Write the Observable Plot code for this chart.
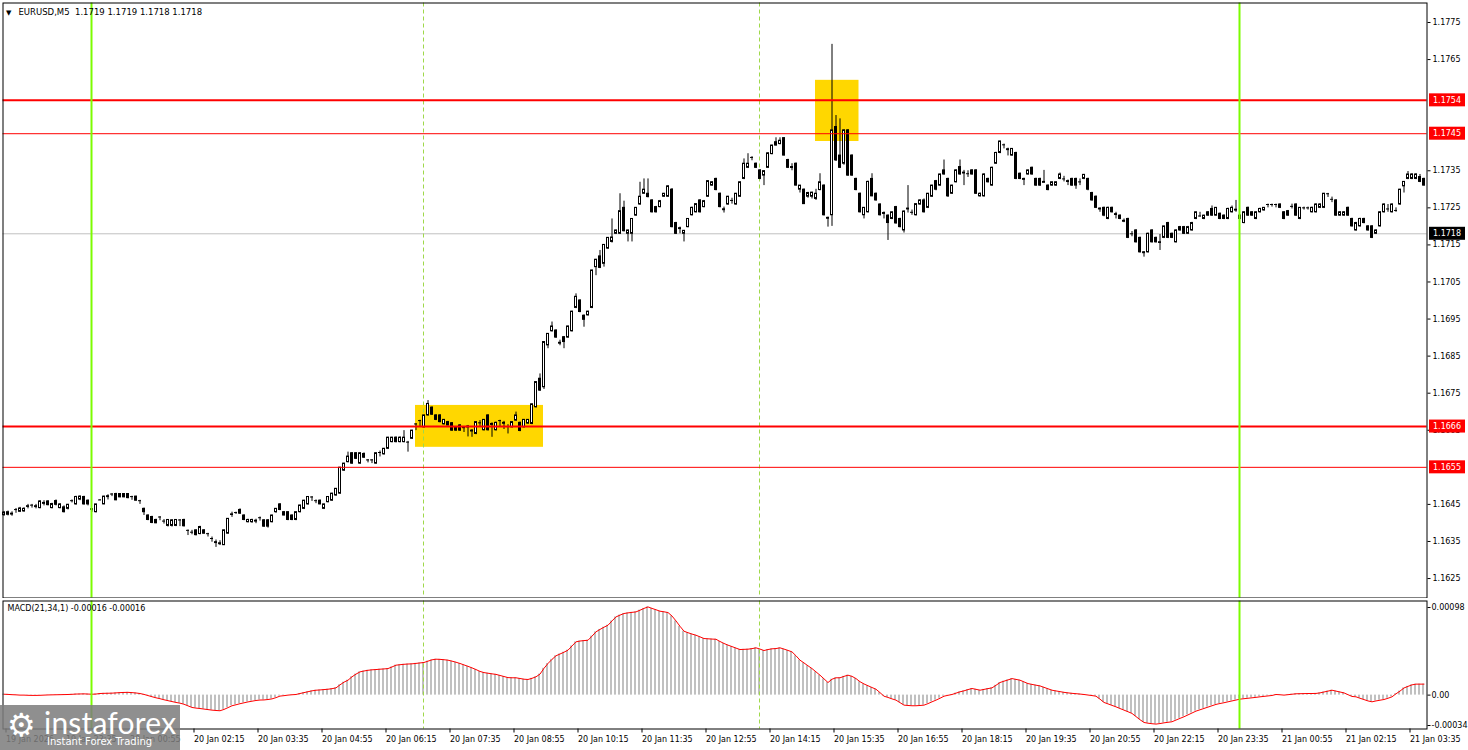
<!DOCTYPE html>
<html><head><meta charset="utf-8">
<script src="https://cdn.jsdelivr.net/npm/d3@7"></script>
<script src="https://cdn.jsdelivr.net/npm/@observablehq/plot@0.6"></script>
<style>
html,body{margin:0;padding:0;background:#fff;width:1468px;height:750px;overflow:hidden;}
#wrap{position:relative;width:1468px;height:750px;}
#main{position:absolute;left:0;top:0;}
#macd{position:absolute;left:0;top:598px;}
#logo{position:absolute;left:0;top:705px;width:180px;height:45px;background:rgba(125,125,125,0.86);color:#fff;overflow:hidden;}
#logo .gear{position:absolute;left:7px;top:1px;font-family:"DejaVu Sans";font-size:32px;line-height:38px;}
#logo .brand{position:absolute;left:44px;top:2px;font-family:Lato,"Open Sans";font-size:30px;line-height:30px;letter-spacing:0.2px;}
#logo .tag{position:absolute;left:47px;top:31px;font-family:"DejaVu Sans";font-size:10px;line-height:12px;}
</style></head>
<body><div id="wrap"><div id="main"></div><div id="macd"></div>
<div id="logo"><span class="gear">⚙</span><span class="brand">instaforex</span><span class="tag">Instant Forex Trading</span></div></div>
<script>
// EURUSD M5 candles, values in pips above BASE (price = BASE + pips/10000)
const BASE = 1.16;
const openPips = [
42.1,42.2,42.5,43.6,43.0,43.1,44.4,44.8,44.5,44.0,
45.4,45.8,44.0,45.9,44.0,44.2,43.8,46.0,45.0,46.3,
47.0,46.0,43.6,42.9,46.2,45.0,47.2,47.8,47.8,47.8,
47.8,47.8,47.1,47.1,46.0,43.8,42.0,41.6,40.8,41.6,
40.5,39.2,39.2,39.2,40.8,40.8,38.0,37.5,38.0,37.0,
38.0,37.1,35.8,34.8,34.5,34.0,37.1,42.2,42.8,43.5,
42.0,40.2,40.2,40.6,41.4,40.7,40.7,40.2,42.9,45.0,
42.9,42.9,42.0,40.8,42.9,43.8,45.0,47.0,46.0,46.0,
43.8,45.6,46.0,47.4,47.9,54.1,56.4,58.8,58.8,56.0,
58.6,57.0,57.0,56.0,59.0,58.5,60.0,61.8,63.0,61.8,
61.8,61.8,62.7,66.7,67.6,65.8,69.0,71.1,69.0,69.0,
66.6,67.2,66.9,65.8,66.3,65.8,66.0,64.9,64.0,67.0,
65.0,69.0,66.7,65.0,67.6,67.0,66.0,65.8,67.6,67.0,
65.8,66.8,66.7,71.2,78.9,76.6,87.9,91.7,91.9,88.6,
90.1,90.0,91.7,98.0,100.0,95.9,96.0,98.0,109.0,111.9,
109.9,114.0,115.8,118.0,118.0,125.0,118.0,118.0,122.9,125.9,
128.8,128.8,127.0,125.2,125.2,128.0,128.0,129.9,120.9,119.5,
118.0,119.8,123.0,123.8,127.0,125.2,128.0,131.0,132.8,128.8,
124.6,125.9,127.0,125.9,128.0,132.8,135.8,138.6,136.9,135.1,
133.7,135.8,139.5,142.7,142.2,143.8,137.9,136.0,136.9,129.9,
129.9,128.0,128.0,127.4,129.8,131.0,122.3,123.0,146.8,139.1,
136.9,145.9,139.1,132.8,128.8,123.0,123.8,132.8,128.8,125.9,
123.6,122.9,122.0,125.2,122.0,118.9,124.8,123.8,123.0,125.9,
127.0,125.0,128.0,132.2,131.0,135.1,132.8,128.8,131.9,136.0,
134.5,134.2,135.1,135.1,128.1,128.1,132.8,131.0,136.9,139.8,
142.0,140.8,139.1,139.8,134.2,132.8,134.0,135.8,132.8,132.8,
132.0,131.0,131.0,131.0,132.8,132.8,132.2,132.8,132.8,132.0,
132.8,132.8,129.0,128.0,124.8,125.0,122.0,125.0,123.3,122.9,
121.5,122.0,118.0,118.9,116.9,113.0,113.0,118.9,116.9,115.6,
116.9,120.9,118.0,115.7,119.8,119.8,118.0,118.9,122.0,122.8,
122.0,123.8,124.7,122.9,123.4,122.9,122.0,123.8,124.5,122.9,
120.9,125.0,123.8,122.0,123.8,124.3,125.9,125.9,125.9,125.9,
123.8,124.1,125.4,125.9,122.0,125.0,125.0,123.8,123.8,125.0,
125.0,128.8,127.3,127.0,122.9,122.9,125.0,122.0,118.9,120.0,
122.0,120.0,120.0,118.0,120.0,123.8,124.7,123.8,124.3,125.9,
130.8,132.8,132.8,132.8,133.3,132.8];
const highPips = [
43.1,43.2,43.0,43.9,44.2,44.1,45.0,45.0,45.0,46.0,
46.0,46.0,45.3,46.2,45.2,44.6,45.0,46.2,47.2,47.3,
47.2,46.2,43.8,45.0,46.3,47.2,47.6,47.9,48.0,47.9,
47.9,47.9,47.2,47.2,46.1,44.0,42.2,41.8,41.0,41.7,
40.9,40.9,40.9,40.9,40.9,41.0,38.1,38.0,38.1,39.1,
38.2,37.2,36.2,35.4,35.2,38.1,41.2,42.9,42.9,43.8,
42.2,41.0,41.0,41.0,41.6,40.9,40.9,42.1,43.9,45.2,
43.1,43.0,42.2,43.0,44.8,46.1,47.1,47.1,46.2,46.2,
45.1,47.1,48.0,49.3,55.0,56.1,59.1,59.0,59.0,59.0,
58.9,57.1,57.1,59.0,59.4,60.1,63.1,63.1,63.2,63.2,
64.9,62.0,65.0,66.8,67.7,69.1,73.0,71.3,69.2,69.2,
67.9,67.4,67.1,66.0,66.5,66.0,66.3,65.2,67.3,67.6,
67.9,69.2,67.0,67.2,67.7,67.4,66.5,67.3,69.9,67.2,
67.9,67.9,72.1,78.1,80.2,88.9,91.1,94.2,92.1,89.3,
90.3,93.1,97.1,101.8,100.2,96.1,97.1,108.2,111.1,113.5,
115.1,117.0,122.0,119.0,128.8,126.8,119.0,122.1,125.1,131.9,
132.8,132.8,127.2,125.4,127.0,128.9,131.0,130.2,121.1,119.8,
118.9,122.1,125.2,126.1,127.2,127.0,132.3,132.1,133.0,129.0,
125.2,128.1,127.6,128.9,132.0,138.2,139.6,138.8,137.1,135.3,
135.0,139.9,141.9,143.9,143.9,143.9,138.1,136.9,137.1,131.0,
130.1,129.2,129.2,130.0,134.2,131.2,122.5,169.1,149.9,149.0,
146.1,146.1,139.3,133.0,129.0,125.1,132.2,134.2,129.0,126.1,
123.9,123.1,123.9,125.4,122.2,124.2,131.0,124.4,126.1,127.2,
127.4,128.9,131.1,132.4,134.1,137.9,133.0,131.1,135.3,137.9,
135.1,135.0,135.3,135.3,129.0,134.2,133.0,136.0,140.0,143.0,
142.2,141.1,141.0,140.0,134.4,133.0,135.2,136.0,133.0,133.0,
135.1,131.2,132.0,132.0,134.4,133.5,132.5,133.0,133.0,132.8,
134.0,133.0,129.2,128.2,125.0,125.2,125.2,125.2,123.8,123.1,
122.0,122.2,118.6,119.1,117.1,113.2,118.2,119.1,117.1,117.8,
120.0,121.1,118.2,119.1,120.0,120.0,120.0,121.1,123.9,123.8,
123.0,124.0,125.5,125.0,123.6,123.1,124.9,125.5,127.0,123.1,
124.0,125.2,124.0,124.0,124.9,125.0,126.0,126.0,126.0,126.1,
124.0,124.3,126.0,126.1,125.0,125.2,125.2,125.2,126.1,126.1,
128.9,128.9,127.9,127.2,124.0,124.0,125.2,122.2,121.1,122.2,
122.2,120.2,120.2,119.1,124.0,126.1,125.9,126.1,125.0,130.0,
132.1,134.8,134.2,134.2,134.0,133.0];
const lowPips = [
41.8,41.9,41.8,42.6,42.8,42.9,43.8,44.0,43.8,43.8,
44.6,44.6,43.8,44.6,43.8,42.7,43.5,45.4,44.8,46.0,
44.8,44.6,42.9,42.7,46.0,44.9,46.2,47.1,46.0,46.8,
46.8,46.5,46.1,45.9,45.0,42.0,40.6,39.8,39.8,40.6,
39.7,38.9,38.9,39.0,39.0,38.9,36.6,36.8,36.5,36.8,
37.0,36.2,34.8,33.4,33.9,33.9,37.0,41.5,42.3,42.3,
40.6,40.0,39.9,39.8,40.5,38.8,38.6,40.0,42.6,43.3,
41.9,40.6,40.6,40.6,42.7,43.6,44.8,45.8,45.2,44.9,
43.6,45.4,45.8,47.2,47.7,53.9,56.2,55.8,57.1,55.8,
57.4,56.2,56.0,55.8,57.8,58.3,59.8,61.6,61.6,61.6,
61.6,59.1,62.5,64.9,65.8,65.6,68.8,69.0,67.6,67.0,
66.4,66.2,64.7,64.7,64.7,64.4,63.2,63.1,63.8,65.8,
64.8,64.8,63.1,64.8,65.8,65.2,64.0,65.6,67.4,64.6,
65.6,66.6,66.5,71.0,75.5,76.0,87.0,91.5,89.8,87.8,
87.0,89.8,91.5,97.8,96.7,92.8,95.8,97.8,106.7,108.6,
109.0,113.8,115.5,117.8,117.8,118.5,115.8,115.8,122.7,125.7,
128.6,127.7,123.6,123.6,125.0,127.8,127.8,119.6,117.8,118.0,
115.8,119.6,122.8,123.6,123.6,125.0,127.8,130.8,129.6,125.0,
123.6,125.7,126.0,125.7,127.8,132.6,135.6,137.7,135.6,132.6,
131.0,135.6,139.3,141.7,142.0,139.0,135.6,135.0,130.9,129.0,
125.9,127.6,127.4,127.0,129.6,122.8,119.8,120.0,137.5,135.6,
136.5,133.5,133.5,129.6,123.6,122.0,123.6,128.0,126.8,122.8,
122.0,116.2,121.8,120.6,119.6,118.2,123.6,123.0,122.8,125.7,
123.6,124.8,127.8,129.6,130.8,133.8,127.8,128.6,131.7,133.8,
131.0,133.2,133.8,128.6,127.9,127.9,131.7,130.8,136.7,139.6,
140.9,139.0,138.9,132.6,132.6,131.0,133.8,133.8,130.8,130.8,
131.8,129.6,130.8,130.8,132.6,132.0,131.0,130.8,130.0,131.0,
132.6,129.6,126.8,124.8,123.8,122.6,121.8,123.6,122.0,121.8,
121.0,116.7,117.2,115.5,112.8,111.7,112.8,115.5,115.5,113.5,
116.7,116.7,116.7,115.5,118.7,117.8,117.8,118.7,121.8,122.5,
121.8,122.7,122.7,122.7,121.8,121.8,121.8,123.6,123.8,121.8,
120.7,122.7,122.7,121.8,123.6,124.1,125.0,125.2,125.0,124.8,
121.8,122.7,124.7,122.7,121.8,124.4,124.4,123.6,123.6,124.8,
124.8,127.8,126.4,122.7,122.7,122.7,122.7,119.8,118.7,119.8,
120.7,118.7,116.7,117.8,119.8,123.6,123.8,123.6,123.8,125.7,
129.0,132.6,132.6,132.6,131.8,130.9];
const closePips = [
42.8,42.9,42.4,43.6,43.9,43.8,44.5,44.8,44.4,45.8,
45.3,44.8,45.1,44.9,45.0,42.9,44.9,46.0,47.0,47.1,
45.0,45.0,43.7,45.0,46.2,47.1,47.1,47.8,46.1,46.9,
46.9,46.7,47.1,46.0,46.0,42.9,40.8,40.0,39.9,41.6,
40.5,40.8,40.7,40.8,40.8,39.1,38.0,37.5,36.7,38.9,
37.1,37.1,35.8,34.7,34.4,38.0,41.1,42.3,42.8,42.5,
40.8,40.8,40.8,40.5,41.4,39.0,39.0,42.0,43.8,43.5,
42.0,40.8,40.8,42.9,44.7,46.0,47.0,47.0,46.0,45.0,
45.0,47.0,47.9,49.2,54.9,56.0,57.9,56.0,57.3,58.8,
57.6,57.0,57.0,58.8,59.0,60.0,63.0,63.0,61.8,63.0,
63.0,61.8,64.9,66.7,67.6,69.0,72.1,69.2,67.8,67.2,
67.8,66.3,64.9,64.9,64.9,65.7,65.9,64.8,67.2,67.0,
67.8,65.0,66.6,67.0,67.6,66.9,66.0,67.2,69.0,64.8,
67.8,67.8,72.0,78.0,75.7,88.8,91.0,93.0,90.0,88.5,
88.8,93.0,97.0,101.0,96.9,94.8,97.0,108.1,111.0,108.8,
115.0,116.9,117.0,118.9,124.1,118.7,118.9,122.0,125.0,128.0,
129.9,127.9,123.8,123.8,126.8,128.8,130.8,119.8,118.0,119.4,
118.8,122.0,125.0,126.0,123.8,126.8,132.2,131.9,129.8,125.2,
124.5,128.0,127.0,128.8,131.9,136.9,136.9,138.6,135.8,132.8,
134.9,139.7,141.8,141.8,143.1,139.1,135.8,135.9,131.0,131.0,
126.0,129.0,129.1,128.8,131.9,123.0,122.2,145.9,137.8,135.8,
145.9,133.7,133.7,129.8,123.8,125.0,132.0,128.1,127.0,123.0,
123.5,120.9,123.8,120.8,119.8,124.0,124.7,123.8,126.0,127.0,
123.8,128.8,131.0,129.9,134.0,134.0,128.1,131.0,135.1,134.0,
134.4,134.2,134.0,128.8,128.8,134.0,131.9,135.8,139.8,142.9,
142.0,140.7,140.9,132.8,132.8,132.7,135.1,134.0,131.0,131.0,
131.9,129.8,131.9,131.9,134.0,132.8,132.1,131.0,131.0,132.0,
133.9,129.9,127.0,125.0,124.7,122.9,125.0,123.8,123.2,122.0,
121.4,116.9,118.0,115.7,113.0,112.9,118.0,115.7,115.7,115.7,
120.0,116.9,116.9,118.9,118.9,118.0,119.8,120.9,123.8,122.8,
122.9,122.9,122.9,125.0,122.0,122.0,124.7,125.0,124.4,122.0,
123.8,122.9,122.9,123.8,124.7,125.0,125.9,125.9,125.9,125.0,
122.0,122.9,125.4,122.9,125.0,125.0,125.0,125.0,125.9,125.9,
128.8,128.8,127.3,122.9,123.8,123.8,122.9,120.0,120.9,122.0,
120.9,118.9,116.9,118.9,123.8,125.9,124.7,125.9,124.3,129.9,
132.0,134.0,134.0,134.0,132.0,131.0];
// MACD(21,34,1) histogram / signal, in units of 0.00001
const macdValues = [
1.0,0.8,0.5,0.3,0,0,-0.2,-0.3,-0.3,-0.2,
0,0.2,0.3,0.4,0.5,0.6,0.7,0.9,1.2,1.3,
1.4,1.2,1.0,1.2,1.8,2.0,2.1,2.2,2.5,2.8,
3.0,3.1,2.8,2.4,1.8,0.8,-0.5,-1.8,-3.0,-4.0,
-5.2,-6.2,-7.2,-8.2,-9.0,-10.2,-12.0,-13.8,-14.5,-15.0,
-15.6,-16.2,-16.8,-17.2,-17.5,-16.0,-14.0,-11.9,-10.8,-9.6,
-8.6,-7.6,-6.8,-6.0,-5.5,-5.4,-4.9,-4.2,-2.8,-1.1,
-0.6,0,0.4,0.7,1.8,2.8,3.8,4.8,5.5,5.8,
6.2,6.6,7.2,8.1,11.5,14.5,16.7,20.5,23.5,26.0,
27.0,27.8,28.3,28.6,29.0,29.3,29.7,31.5,33.5,34.0,
34.5,34.8,35.0,35.5,36.0,36.5,38.0,39.5,40.2,40.0,
39.6,39.1,38.0,36.8,35.4,33.8,32.2,30.5,28.6,26.5,
25.2,24.5,23.8,23.2,22.0,20.8,19.6,19.4,19.4,18.6,
17.8,17.5,18.8,20.5,23.5,30.0,35.4,40.0,44.0,46.0,
48.0,50.3,55.0,59.6,60.5,61.0,61.4,66.0,70.8,73.5,
76.0,78.2,83.0,87.5,89.5,91.3,92.0,92.6,93.1,95.0,
97.0,98.7,97.0,95.5,93.9,93.2,92.4,88.5,83.0,77.0,
71.5,69.8,68.3,67.0,65.2,63.3,63.0,62.7,62.5,60.0,
57.8,55.9,54.3,52.6,51.0,51.2,51.4,52.0,52.9,51.5,
49.9,51.0,51.8,52.1,52.9,51.5,50.0,48.4,44.0,39.1,
36.0,32.8,29.7,26.0,22.3,18.2,14.1,17.8,19.4,19.4,
21.0,22.3,21.0,18.5,15.0,12.5,10.5,8.5,6.6,2.8,
-1.2,-2.6,-4.2,-5.6,-8.4,-11.2,-11.6,-11.9,-11.9,-11.6,
-11.2,-9.5,-7.5,-5.6,-3.5,-1.2,-0.2,0.7,2.2,3.7,
4.8,6.2,7.4,6.5,5.5,6.4,7.3,8.1,11.0,14.1,
15.6,17.0,18.5,17.6,16.7,14.8,12.9,12.0,11.1,10.3,
8.7,7.1,5.5,4.7,3.9,3.1,2.5,2.0,1.6,1.2,
0.7,0.1,-0.5,-1.2,-4.5,-8.2,-9.8,-11.5,-13.1,-15.0,
-16.8,-18.6,-20.5,-24.0,-27.5,-30.6,-31.4,-32.0,-32.4,-31.8,
-31.0,-30.4,-29.8,-27.9,-26.0,-24.2,-22.1,-20.0,-17.9,-16.4,
-14.9,-13.4,-11.9,-10.4,-9.4,-8.5,-7.5,-6.5,-5.5,-4.5,
-4.0,-3.5,-3.0,-2.5,-1.9,-1.4,-0.9,-0.4,0.7,0.4,
0,0.5,1.0,1.5,1.6,1.7,1.8,1.8,1.9,2.5,
3.5,4.5,5.5,4.5,3.5,2.5,0.5,-1.5,-1.9,-3.5,
-5.0,-6.5,-7.5,-6.5,-5.7,-4.9,-3.5,-1.9,1.5,4.5,
8.0,9.8,11.5,12.3,12.3,12.3];

// time axis (bar index -> label)
const timeTickBars = [0,15,31,47,63,79,95,111,127,143,159,175,191,207,223,239,255,271,287,303,319,335,351];
const timeTickLabels = ["19 Jan 2026","19 Jan 23:35","20 Jan 00:55","20 Jan 02:15","20 Jan 03:35","20 Jan 04:55","20 Jan 06:15","20 Jan 07:35","20 Jan 08:55","20 Jan 10:15","20 Jan 11:35","20 Jan 12:55","20 Jan 14:15","20 Jan 15:35","20 Jan 16:55","20 Jan 18:15","20 Jan 19:35","20 Jan 20:55","20 Jan 22:15","20 Jan 23:35","21 Jan 00:55","21 Jan 02:15","21 Jan 03:35"];
// price grid labels (those fully hidden behind the level tags are left out)
const priceTicks = [1.1625,1.1635,1.1645,1.1665,1.1675,1.1685,1.1695,1.1705,1.1715,1.1725,1.1735,1.1765,1.1775];
const macdTicks = [0.00098, 0, -0.00034];
const macdTickLabels = ["0.00098", "0.00", "-0.00034"];
// horizontal levels
const thickLevels = [1.1754, 1.1666];
const thinLevels = [1.1745, 1.1655];
const bidPrice = 1.1718;
const priceTags = [
  {p: 1.1754, fill: "#ff0000"}, {p: 1.1745, fill: "#ff0000"},
  {p: 1.1718, fill: "#000000"}, {p: 1.1666, fill: "#ff0000"}, {p: 1.1655, fill: "#ff0000"}];
// vertical markers (bar index units)
const dayBreaks = [21.875, 308.875];
const periodSeparators = [104.875, 188.875];
// highlighted zones
const zoneBarStart = [102.875, 202.875];
const zoneBarEnd = [134.875, 213.75];
const zonePriceLow = [1.16604, 1.17429];
const zonePriceHigh = [1.16717, 1.17594];
const headerText = "EURUSD,M5  1.1719 1.1719 1.1718 1.1718";
const macdTitle = "MACD(21,34,1) -0.00016 -0.00016";

const N = openPips.length;
if (![highPips, lowPips, closePips, macdValues].every(a => a.length === N)) throw new Error("length mismatch " + [N, highPips.length, lowPips.length, closePips.length, macdValues.length]);
const candles = d3.range(N).map(i => ({
  i, o: BASE + openPips[i] / 1e4, h: BASE + highPips[i] / 1e4,
  l: BASE + lowPips[i] / 1e4, c: BASE + closePips[i] / 1e4
}));
const dojis = candles.filter(d => Math.abs(d.o - d.c) < 0.000025);
const macdRows = macdValues.map((v, i) => ({i, v: v / 1e5}));
const zones = zoneBarStart.map((s, k) => ({x1: s, x2: zoneBarEnd[k], y1: zonePriceLow[k], y2: zonePriceHigh[k]}));

const X_DOMAIN = [-0.25, 355.75];
const FONT = {fontFamily: "DejaVu Sans", fontSize: "8px", background: "white", color: "black", overflow: "visible"};
const GREEN = "#7cfc00";
const SEP = "#9fd84a";

const main = Plot.plot({
  width: 1468, height: 600,
  marginLeft: 2.5, marginRight: 41.5, marginTop: 2.5, marginBottom: 2.5,
  x: {domain: X_DOMAIN, axis: null},
  y: {domain: [1.161975, 1.178026]},
  style: FONT,
  marks: [
    Plot.rect(zones, {x1: "x1", x2: "x2", y1: "y1", y2: "y2", fill: "#ffd700"}),
    Plot.ruleY([bidPrice], {stroke: "#c0c0c0", strokeWidth: 1}),
    Plot.ruleX(periodSeparators, {stroke: SEP, strokeDasharray: "4,3"}),
    Plot.ruleX(candles, {x: "i", y1: "l", y2: "h", stroke: "black", strokeWidth: 1}),
    Plot.rect(candles, {x1: "i", x2: "i", y1: "o", y2: "c", insetLeft: -1, insetRight: -1,
      fill: d => d.c >= d.o ? "white" : "black", stroke: "black", strokeWidth: 1}),
    Plot.ruleY(dojis, {y: "c", x1: d => d.i - 0.375, x2: d => d.i + 0.375, stroke: "black"}),
    Plot.ruleY(thickLevels, {stroke: "#ff0000", strokeWidth: 2}),
    Plot.ruleY(thinLevels, {stroke: "#ff0000", strokeWidth: 1}),
    Plot.ruleX(dayBreaks, {stroke: GREEN, strokeWidth: 2}),
    Plot.frame({stroke: "black"}),
    Plot.axisY({anchor: "right", ticks: priceTicks, tickFormat: d3.format(".4f"), tickSize: 3, tickPadding: 2.5, label: null}),
    Plot.rect(priceTags, {x1: () => X_DOMAIN[1], x2: () => X_DOMAIN[1], y1: "p", y2: "p",
      insetLeft: 2.5, insetRight: -38.5, insetTop: -6.5, insetBottom: -6.5, fill: "fill"}),
    Plot.text(priceTags, {x: () => X_DOMAIN[1], y: "p", text: d => d.p.toFixed(4), dx: 6, textAnchor: "start", fill: "white"}),
    Plot.text(["▼"], {frameAnchor: "top-left", dx: 3, dy: 9.5, textAnchor: "start", lineAnchor: "middle", fontSize: 7}),
    Plot.text([headerText], {frameAnchor: "top-left", dx: 15.5, dy: 9.5, textAnchor: "start", lineAnchor: "middle", fontSize: 8.5})
  ]
});
document.getElementById("main").appendChild(main);

const labelOf = new Map(timeTickBars.map((t, k) => [t, timeTickLabels[k]]));
const macdLabelOf = new Map(macdTicks.map((t, k) => [t, macdTickLabels[k]]));
const macd = Plot.plot({
  width: 1468, height: 150,
  marginLeft: 2.5, marginRight: 41.5, marginTop: 2.5, marginBottom: 19.5,
  x: {domain: X_DOMAIN},
  y: {domain: [-0.000379, 0.001053]},
  style: FONT,
  marks: [
    Plot.rect(macdRows, {x1: "i", x2: "i", y1: 0, y2: "v", insetLeft: -1.5, insetRight: -0.5, fill: "#c0c0c0"}),
    Plot.line(macdRows, {x: "i", y: "v", stroke: "#ff0000", strokeWidth: 1}),
    Plot.ruleX(periodSeparators, {stroke: SEP, strokeDasharray: "4,3"}),
    Plot.ruleX(dayBreaks, {stroke: GREEN, strokeWidth: 2}),
    Plot.frame({stroke: "black"}),
    Plot.axisY({anchor: "right", ticks: macdTicks, tickFormat: d => macdLabelOf.get(d), tickSize: 3, tickPadding: 1.5, label: null}),
    Plot.axisX({anchor: "bottom", ticks: timeTickBars, tickFormat: d => labelOf.get(d), tickSize: 4, tickPadding: 3, textAnchor: "start", dx: 2, label: null}),
    Plot.text([macdTitle], {frameAnchor: "top-left", dx: 4.5, dy: 7.5, textAnchor: "start", lineAnchor: "middle"})
  ]
});
document.getElementById("macd").appendChild(macd);
</script></body></html>
